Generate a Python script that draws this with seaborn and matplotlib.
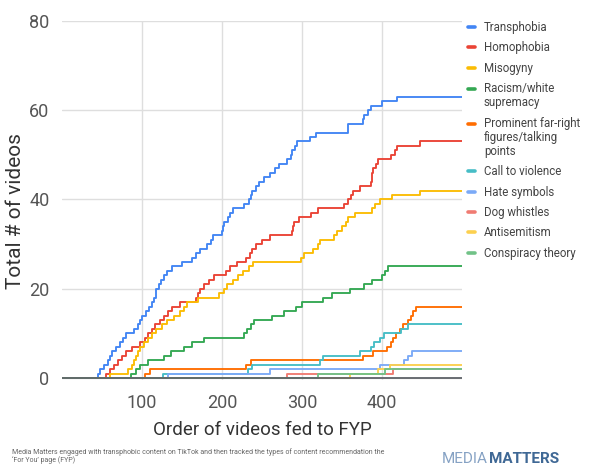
import numpy as np
import pandas as pd
import matplotlib
matplotlib.use("Agg")
import matplotlib.pyplot as plt
import seaborn as sns

# Content categories, in legend order, with their display labels and colours
categories = [
    "Transphobia", "Homophobia", "Misogyny", "Racism/white supremacy",
    "Prominent far-right figures/talking points", "Call to violence",
    "Hate symbols", "Dog whistles", "Antisemitism", "Conspiracy theory",
]
legend_labels = [
    "Transphobia", "Homophobia", "Misogyny", "Racism/white\nsupremacy",
    "Prominent far-right\nfigures/talking\npoints", "Call to violence",
    "Hate symbols", "Dog whistles", "Antisemitism", "Conspiracy theory",
]
colors = ["#4285F4", "#EA4335", "#FBBC04", "#34A853", "#FF6D01",
          "#46BDC6", "#7BAAF7", "#F07B72", "#FCD04F", "#71C287"]

# Position in the feed of each video that added one to a category's total
transphobia = [45, 48, 52, 57, 60, 63, 67, 72, 76, 80, 90, 95, 98, 100, 105,
               109, 113, 115, 117, 118, 121, 124, 127, 131, 137, 150, 162, 168,
               172, 181, 186, 189, 200, 201, 202, 207, 210, 214, 228, 234, 236,
               238, 242, 246, 252, 260, 266, 271, 281, 286, 288, 291, 294, 310,
               318, 357, 358, 376, 377, 383, 386, 400, 419]
homophobia = [55, 60, 65, 70, 75, 80, 88, 98, 104, 108, 112, 116, 122, 127, 132,
              137, 148, 168, 170, 172, 178, 184, 190, 205, 210, 219, 230, 235,
              238, 242, 250, 260, 287, 289, 290, 296, 311, 320, 352, 358, 361,
              364, 372, 386, 387, 388, 389, 392, 395, 411, 416, 419, 447]
misogyny = [60, 82, 87, 90, 92, 95, 97, 103, 108, 112, 118, 125, 131, 140, 147,
            152, 156, 170, 196, 202, 206, 214, 220, 226, 234, 239, 299, 302, 314,
            320, 323, 340, 344, 350, 355, 358, 366, 388, 391, 397, 412, 447]
racism = [86, 92, 97, 108, 128, 136, 152, 162, 178, 228, 231, 236, 240, 262, 278,
          292, 300, 326, 338, 360, 378, 388, 400, 404, 408]
far_right = [104, 110, 230, 236, 376, 389, 406, 411, 414, 418, 423, 426, 432,
             436, 439, 443]
violence = [126, 232, 238, 322, 326, 372, 386, 390, 398, 402, 424, 432]
hate_symbols = [132, 260, 397, 428, 432, 437]
dog_whistles = [281, 414]
antisemitism = [360, 395, 410]
conspiracy = [320, 404]

series = [transphobia, homophobia, misogyny, racism, far_right, violence,
          hate_symbols, dog_whistles, antisemitism, conspiracy]
n_videos = 500

x_ticks = [100, 200, 300, 400]
y_ticks = [0, 20, 40, 60, 80]

sns.set_theme(style="whitegrid")
plt.rcParams["font.family"] = ["Roboto", "DejaVu Sans"]

# Running totals as a long table: one row per increase, plus start and end
rows = []
for name, hits in zip(categories, series):
    xs = [0] + hits + [n_videos]
    ys = [0] + list(range(1, len(hits) + 1)) + [len(hits)]
    rows += [{"video": x, "total": y, "category": name} for x, y in zip(xs, ys)]
df = pd.DataFrame(rows)

W, H = 590, 467
fig = plt.figure(figsize=(W / 100, H / 100), dpi=100)
ax = fig.add_axes([62 / W, 1 - 380 / H, 400 / W, 359 / H])

sns.lineplot(data=df, x="video", y="total", hue="category",
             hue_order=categories, palette=colors, estimator=None,
             drawstyle="steps-post", linewidth=1.35, ax=ax)

ax.axhline(0, color="#5f6368", linewidth=1.3, zorder=5)
ax.set_xlim(0, n_videos)
ax.set_ylim(-0.45, 80)
ax.set_xticks(x_ticks)
ax.set_yticks(y_ticks)
ax.grid(True, color="#dedede", linewidth=1.0)
for s in ax.spines.values():
    s.set_visible(False)
ax.tick_params(axis="both", length=0, labelsize=13, colors="#555555")
ax.tick_params(axis="x", pad=10)
ax.tick_params(axis="y", pad=9)
ax.set_xlabel("Order of videos fed to FYP", fontsize=13.5, color="#333333")
ax.set_ylabel("Total # of videos", fontsize=15, color="#333333")
ax.xaxis.set_label_coords(0.5, -0.115)
ax.yaxis.set_label_coords(-0.093, 0.47)

# Legend to the right, with the colour dash level with each label's first line
handles, _ = ax.get_legend_handles_labels()
leg_size = 8.3
line_pitch = 1.11
leg = ax.legend(handles, legend_labels, loc="upper left",
                bbox_to_anchor=(468 / W, 1 - 21 / H),
                bbox_transform=fig.transFigure, frameon=False,
                fontsize=leg_size, handlelength=0.62, handletextpad=0.75,
                labelspacing=0.64, borderpad=0, borderaxespad=0)
line_pt = 1.134 * leg_size * line_pitch
for t in leg.get_texts():
    t.set_color("#444444")
    t.set_linespacing(line_pitch)
for h, lab in zip(leg.legend_handles, legend_labels):
    h.set_linewidth(2.6)
    extra = lab.count("\n")
    if extra:
        h.set_ydata(np.asarray(h.get_ydata()) + extra * line_pt / 2)

fig.text(12 / W, 1 - 456 / H,
         "Media Matters engaged with transphobic content on TikTok and then "
         "tracked the types of content recommendation the\n\u2018For You\u2019 page (FYP)",
         fontsize=5.0, color="#666666", va="center", ha="left", linespacing=1.1)

# Wordmark: light "MEDIA" followed directly by bold "MATTERS"
media = fig.text(442 / W, 1 - 463 / H, "MEDIA", fontsize=11, color="#86a2c4",
                 ha="left", va="baseline")
renderer = fig.canvas.get_renderer()
media_end = media.get_window_extent(renderer).x1
fig.text(media_end / W + 0.5 / W, 1 - 463 / H, "MATTERS", fontsize=11,
         color="#3f6895", fontweight="bold", ha="left", va="baseline")

fig.savefig("out.png", dpi=100, facecolor="white")
